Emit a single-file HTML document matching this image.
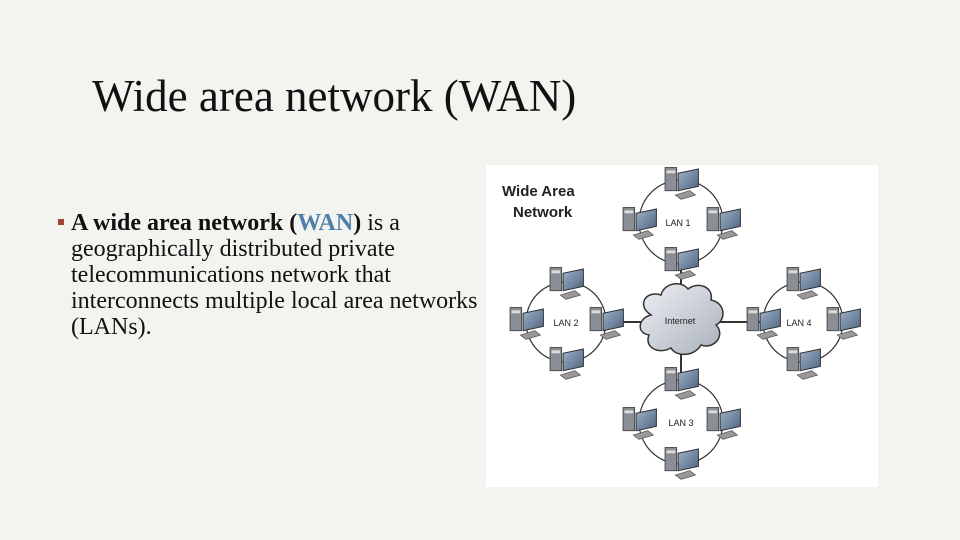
<!DOCTYPE html>
<html><head><meta charset="utf-8"><style>
body{margin:0;width:960px;height:540px;overflow:hidden;background:#f3f3ef;position:relative;font-family:"Liberation Serif",serif}
.t{position:absolute;left:92px;top:70px;font-size:45px;color:#111;white-space:nowrap}
.b{position:absolute;left:71px;top:210px;font-size:24px;line-height:26px;color:#111;width:440px;white-space:nowrap}
.sq{position:absolute;left:58px;top:219px;width:6px;height:6px;background:#a0452e}
svg{position:absolute;left:486px;top:165px}
</style></head><body>
<div class="t">Wide area network (WAN)</div>
<div class="sq"></div>
<div class="b"><b>A wide area network (<span style="color:#4f7fa8">WAN</span>)</b> is a<br>geographically distributed private<br>telecommunications network that<br>interconnects multiple local area networks<br>(LANs).</div>
<svg width="392" height="322" viewBox="0 0 392 322">
<defs>
<linearGradient id="cg" x1="0" y1="0" x2="1" y2="1"><stop offset="0" stop-color="#eef1f5"/><stop offset="1" stop-color="#a9b0ba"/></linearGradient>
<linearGradient id="mg" x1="0" y1="0" x2="1" y2="1"><stop offset="0" stop-color="#9fb3c8"/><stop offset="1" stop-color="#4e6480"/></linearGradient>
<g id="pc0">
<rect x="-11" y="-10" width="8" height="16" fill="#8a8f96" stroke="#444" stroke-width="0.6"/>
<rect x="-10" y="-8" width="6" height="2" fill="#ddd"/>
<polygon points="-2,-6 12,-9 12,3 -2,6" fill="url(#mg)" stroke="#333" stroke-width="0.7"/>
<polygon points="-4,9 6,6 10,9 0,12" fill="#999" stroke="#555" stroke-width="0.5"/>
</g>
<g id="pc"><use href="#pc0" transform="scale(1.45)"/></g>
</defs>
<rect width="392" height="322" fill="#fff"/>
<text x="16" y="31" font-family="Liberation Sans,sans-serif" font-weight="bold" font-size="15" fill="#222">Wide Area</text>
<text x="27" y="52" font-family="Liberation Sans,sans-serif" font-weight="bold" font-size="15" fill="#222">Network</text>
<g fill="none" stroke="#333" stroke-width="1.2">
<circle cx="195" cy="57" r="42"/><circle cx="80" cy="157" r="40"/><circle cx="317" cy="157" r="40"/><circle cx="195" cy="257" r="42"/>
<line x1="195" y1="99" x2="195" y2="130" stroke-width="2"/><line x1="195" y1="185" x2="195" y2="215" stroke-width="2"/>
<line x1="120" y1="157" x2="160" y2="157" stroke-width="2"/><line x1="230" y1="157" x2="277" y2="157" stroke-width="2"/>
</g>
<path d="M165,150 C150,140 160,125 175,130 C178,118 195,115 202,124 C212,116 228,122 225,135 C240,138 240,155 230,160 C240,170 228,185 215,180 C208,192 190,192 185,183 C172,190 158,182 163,170 C150,168 152,153 165,150Z" fill="url(#cg)" stroke="#333" stroke-width="1.5"/>
<g font-family="Liberation Sans,sans-serif" font-size="9" fill="#222" text-anchor="middle">
<text x="192" y="61">LAN 1</text><text x="80" y="161">LAN 2</text><text x="313" y="161">LAN 4</text><text x="195" y="261">LAN 3</text><text x="194" y="159">Internet</text>
</g>
<use href="#pc" x="195" y="17"/><use href="#pc" x="153" y="57"/><use href="#pc" x="237" y="57"/><use href="#pc" x="195" y="97"/>
<use href="#pc" x="80" y="117"/><use href="#pc" x="40" y="157"/><use href="#pc" x="120" y="157"/><use href="#pc" x="80" y="197"/>
<use href="#pc" x="317" y="117"/><use href="#pc" x="277" y="157"/><use href="#pc" x="357" y="157"/><use href="#pc" x="317" y="197"/>
<use href="#pc" x="195" y="217"/><use href="#pc" x="153" y="257"/><use href="#pc" x="237" y="257"/><use href="#pc" x="195" y="297"/>
</svg>
</body></html>
